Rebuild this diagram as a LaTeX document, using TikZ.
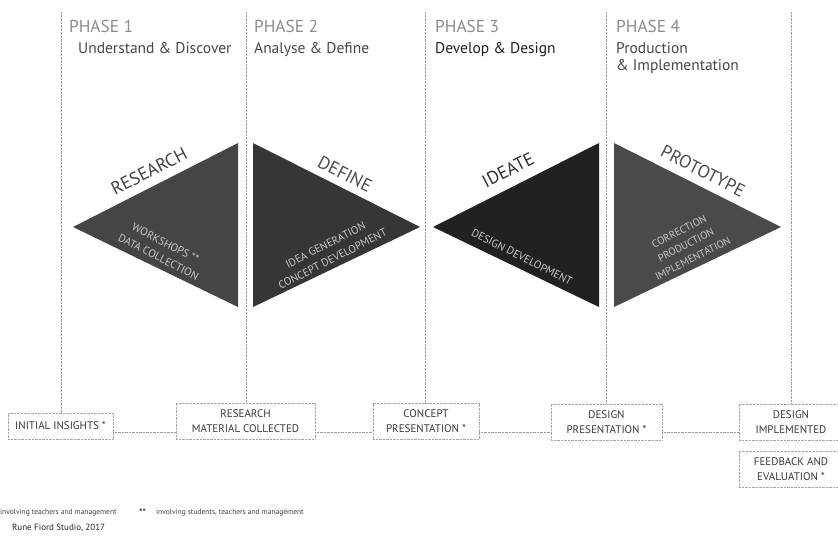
\documentclass[tikz,border=0pt]{standalone}
\usepackage{fontspec}
\setmainfont{PT Sans}
\begin{document}
\begin{tikzpicture}[x=1pt,y=-1pt,
  phase/.style={anchor=base west, text=black!45, font=\fontsize{17.3}{19}\selectfont, inner sep=0pt},
  sub/.style={anchor=base west, text=black!72, font=\fontsize{15.5}{17}\selectfont, inner sep=0pt, align=left},
  vline/.style={draw=black!40, line width=0.7pt, dash pattern=on 0.7pt off 0.7pt},
  conn/.style={draw=black!40, line width=0.7pt, dash pattern=on 0.7pt off 0.7pt},
  box/.style={draw=black!35, line width=0.7pt, dash pattern=on 0.7pt off 0.7pt, align=center, text=black!78, font=\fontsize{11}{15}\selectfont, inner sep=0pt},
  big/.style={font=\fontsize{18}{20}\selectfont, inner sep=0pt},
  inner/.style={font=\fontsize{11}{15.5}\selectfont, text=black!22, align=center, inner sep=0pt},
  foot/.style={anchor=base west, font=\fontsize{7.5}{8}\selectfont, text=black!75, inner sep=0pt}]
\useasboundingbox (0,0) rectangle (838,539);
\fill[white] (0,0) rectangle (838,539);

% phase titles
\node[phase] (p1) at (69,32) {PHASE 1};
\node[sub] (s1) at (78,53) {Understand \& Discover};
\node[phase] (p2) at (254,32) {PHASE 2};
\node[sub] (s2) at (254,53) {Analyse \& Define};
\node[phase] (p3) at (435,32) {PHASE 3};
\node[sub, text=black!88] (s3) at (435,53) {Develop \& Design};
\node[phase] (p4) at (616,32) {PHASE 4};
\node[sub] (s4) at (616,53) {Production};
\node[sub] (s4b) at (616,70) {\& Implementation};

% triangles
\fill[black!73] (73,227) -- (238,143) -- (238,307) -- cycle;
\fill[black!79] (253,143) -- (420,227) -- (253,307) -- cycle;
\fill[black!87] (433,227) -- (599,143) -- (599,307) -- cycle;
\fill[black!71] (614,143) -- (781,227) -- (614,307) -- cycle;

% triangle labels
\node[big, rotate=27, text=black!75] (lres) at (149,171) {RESEARCH};
\node[big, rotate=-27, text=black!70] (ldef) at (345,174) {DEFINE};
\node[big, rotate=27, text=black!82] (lide) at (508,170) {IDEATE};
\node[big, rotate=-27, text=black!70] (lpro) at (703,171) {PROTOTYPE};

\node[inner, rotate=-27] (ires) at (162,250) {WORKSHOPS **\\DATA COLLECTION};
\node[inner, rotate=27] (idef) at (329,252) {IDEA GENERATION\\CONCEPT DEVELOPMENT};
\node[inner, rotate=-27] (iide) at (522,257) {DESIGN DEVELOPMENT};
\node[inner, rotate=27, font=\fontsize{10.5}{15}\selectfont] (ipro) at (686,245) {CORRECTION\\PRODUCTION\\IMPLEMENTATION};

% boxes
\node[box, minimum width=105pt, minimum height=26pt] (b1) at (60.5,426) {INITIAL INSIGHTS *};
\node[box, minimum width=139pt, minimum height=36pt] (b2) at (245.5,421) {RESEARCH\\MATERIAL COLLECTED};
\node[box, minimum width=106pt, minimum height=36pt] (b3) at (426,421.5) {CONCEPT\\PRESENTATION *};
\node[box, minimum width=111pt, minimum height=36pt] (b4) at (606.5,422) {DESIGN\\PRESENTATION *};
\node[box, minimum width=104pt, minimum height=36pt] (b5) at (791,422) {DESIGN\\IMPLEMENTED};
\node[box, minimum width=104pt, minimum height=36pt] (b6) at (791,469) {FEEDBACK AND\\EVALUATION *};

% vertical dotted lines
\coordinate (t1) at (61,12);
\coordinate (t2) at (246,12);
\coordinate (t3) at (425,12);
\coordinate (t4) at (606,12);
\coordinate (t5) at (791,12);
\draw[vline] (t1) -- (b1.north -| t1);
\draw[vline] (t2) -- (b2.north -| t2);
\draw[vline] (t3) -- (b3.north -| t3);
\draw[vline] (t4) -- (b4.north -| t4);
\draw[vline] (t5) -- (b5.north -| t5);

% horizontal connectors
\coordinate (row) at (0,432.5);
\draw[conn] (b1.east |- row) -- (b2.west |- row);
\draw[conn] (b2.east |- row) -- (b3.west |- row);
\draw[conn] (b3.east |- row) -- (b4.west |- row);
\draw[conn] (b4.east |- row) -- (b5.west |- row);

% footnotes
\node[foot] (f1) at (0,514) {involving teachers and management};
\node[foot, font=\fontsize{9}{10}\selectfont\bfseries, text=black!80] (f2s) at (139,515) {**};
\node[foot] (f2) at (156,514) {involving students, teachers and management};
\node[foot, font=\fontsize{9}{10}\selectfont, text=black!85] (f3) at (12,530) {Rune Fiord Studio, 2017};
\end{tikzpicture}
\end{document}
